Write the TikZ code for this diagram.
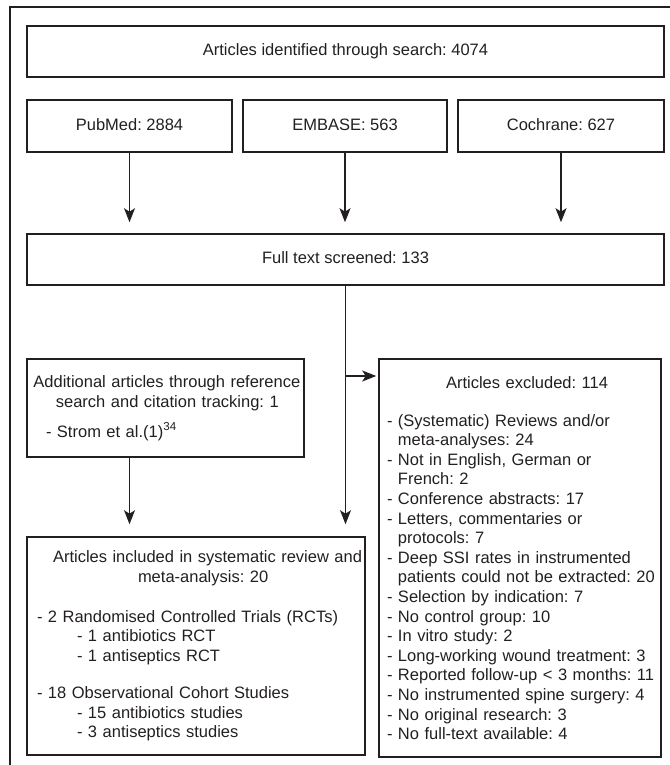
\documentclass[tikz,border=0pt]{standalone}
\usepackage{fontspec}
\setmainfont{Liberation Sans}
\usetikzlibrary{arrows.meta}
\definecolor{ink}{RGB}{35,31,32}
\newcommand\lyn[2]{\mbox{\hspace*{#1pt}#2}}
\newcommand\exitem[1]{\mbox{\hspace*{4pt}#1}}
\newcommand\excont[1]{\mbox{\hspace*{4pt}\hphantom{-\ }#1}}
\begin{document}
\begin{tikzpicture}[x=1pt,y=-1pt,
  box/.style={draw=ink, line width=1.6pt, rectangle, inner xsep=4pt, inner ysep=0pt,
    text=ink, font=\fontsize{16.5}{19.6}\selectfont\frenchspacing},
  onebox/.style={box, text height=12pt, text depth=3.5pt},
  arr/.style={draw=ink, line width=1.6pt, -{Stealth[length=14pt,width=11pt,inset=3.5pt]}},
  frame/.style={draw=ink, line width=2.2pt}
]
\useasboundingbox (0,0) rectangle (669,765);
\draw[frame] (670,7) -- (10,7) -- (10,766);

\node[onebox, minimum width=637pt, minimum height=51pt] (search) at (345.5,51.5) {Articles identified through search: 4074};
\node[onebox, minimum width=205pt, minimum height=52pt] (pubmed) at (129.5,126) {PubMed: 2884};
\node[onebox, minimum width=204pt, minimum height=52pt] (embase) at (345,126) {EMBASE: 563};
\node[onebox, minimum width=206pt, minimum height=52pt] (cochrane) at (561,126) {Cochrane: 627};
\node[onebox, minimum width=637pt, minimum height=51pt] (fulltext) at (345.5,259.5) {Full text screened: 133};

\node[box, minimum height=98pt, text width=269pt, align=left] (additional) at (165.5,408)
  {\lyn{2.4}{Additional articles through reference}\\
   \lyn{24.9}{search and citation tracking: 1}\\[10.4pt]
   \lyn{15}{- Strom et al.(1)\textsuperscript{34}}};

\node[box, minimum height=218pt, text width=330pt, align=left] (included) at (196,646)
  {\lyn{22}{Articles included in systematic review and}\\
   \lyn{107}{meta-analysis: 20}\\[20.4pt]
   \lyn{6}{- 2 Randomised Controlled Trials (RCTs)}\\
   \lyn{46}{- 1 antibiotics RCT}\\
   \lyn{46}{- 1 antiseptics RCT}\\[17.4pt]
   \lyn{6}{- 18 Observational Cohort Studies}\\
   \lyn{46}{- 15 antibiotics studies}\\
   \lyn{46}{- 3 antiseptics studies}};

\node[box, minimum height=398pt, text width=274pt, align=left] (excluded) at (520,558)
  {\lyn{63}{Articles excluded: 114}\\[18.4pt]
   \exitem{- (Systematic) Reviews and/or}\\
   \excont{meta-analyses: 24}\\
   \exitem{- Not in English, German or}\\
   \excont{French: 2}\\
   \exitem{- Conference abstracts: 17}\\
   \exitem{- Letters, commentaries or}\\
   \excont{protocols: 7}\\
   \exitem{- Deep SSI rates in instrumented}\\
   \excont{patients could not be extracted: 20}\\
   \exitem{- Selection by indication: 7}\\
   \exitem{- No control group: 10}\\
   \exitem{- In vitro study: 2}\\
   \exitem{- Long-working wound treatment: 3}\\
   \exitem{- Reported follow-up < 3 months: 11}\\
   \exitem{- No instrumented spine surgery: 4}\\
   \exitem{- No original research: 3}\\
   \exitem{- No full-text available: 4}};

\foreach \n in {pubmed,embase,cochrane}
  \draw[arr, shorten >=11pt] (\n.south) -- (\n.south |- fulltext.north);
\draw[arr, shorten >=12pt] (fulltext.south) -- (fulltext.south |- included.north);
\coordinate (branchy) at (0,376);
\coordinate (branch) at (fulltext.south |- branchy);
\draw[arr, shorten >=2pt] (branch) -- (branch -| excluded.west);
\draw[arr, shorten >=12pt] (pubmed.south |- additional.south) -- (pubmed.south |- included.north);
\end{tikzpicture}
\end{document}
